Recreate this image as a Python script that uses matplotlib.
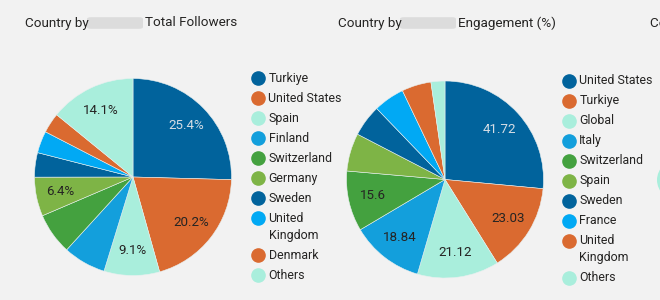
import matplotlib
matplotlib.use("Agg")
import matplotlib.pyplot as plt
from matplotlib.patches import FancyBboxPatch, Circle

plt.rcParams['font.family'] = ['Roboto', 'DejaVu Sans']

# left chart: total followers (%)
countries1 = ['Turkiye', 'United States', 'Spain', 'Finland', 'Switzerland',
              'Germany', 'Sweden', 'United Kingdom', 'Denmark', 'Others']
followers = [25.4, 20.2, 9.1, 7.0, 6.8, 6.4, 4.0, 3.6, 3.3, 14.1]
show1 = [True, True, True, False, False, True, False, False, False, True]

# right chart: engagement (%)
countries2 = ['United States', 'Turkiye', 'Global', 'Italy', 'Switzerland',
              'Spain', 'Sweden', 'France', 'United Kingdom', 'Others']
engagement = [41.72, 23.03, 21.12, 18.84, 15.6, 9.8, 8.2, 8.0, 7.6, 3.6]
show2 = [True, True, True, True, True, False, False, False, False, False]

palette = ['#01639C', '#DA6A30', '#A9EEDC', '#139FDC', '#44A13F',
           '#7EB446', '#01639C', '#01A9F4', '#DA6A30', '#A9EEDC']

bg = '#F2F2F2'
ink = '#252423'
W, H = 660, 300

fig = plt.figure(figsize=(6.6, 3.0), dpi=100, facecolor=bg)


def fx(x):
    return x / W


def fy(y):
    return 1 - y / H


def draw_pie(cx, cy, r, values, show, fmt):
    ax = fig.add_axes([fx(cx - r), fy(cy + r), 2 * r / W, 2 * r / H])
    ax.set_facecolor(bg)
    wedges, texts = ax.pie(values, colors=palette, startangle=90, counterclock=False,
                           radius=1, labels=[fmt(v) if s else '' for v, s in zip(values, show)],
                           labeldistance=0.75,
                           wedgeprops=dict(edgecolor='#E8F0F0', linewidth=0.4),
                           textprops=dict(fontsize=9.6, color=ink, ha='center', va='center'))
    texts[0].set_color('#D5DDE5')
    ax.set_xlim(-1, 1)
    ax.set_ylim(-1, 1)
    ax.set_aspect('equal')
    ax.axis('off')


def draw_legend(xm, y0, names):
    y = y0
    for name, col in zip(names, palette):
        fig.lines.append(plt.Line2D([fx(xm)], [fy(y)], marker='o', ms=9.5, color=col,
                                    ls='none', transform=fig.transFigure, figure=fig))
        parts = name.split(' ') if name == 'United Kingdom' else [name]
        for k, p in enumerate(parts):
            fig.text(fx(xm + 10.5), fy(y + 17 * k), p, fontsize=8.9, color=ink,
                     ha='left', va='center')
        y += 20 + 17 * (len(parts) - 1)


def draw_title(x, y, first, gap, rest):
    fig.text(fx(x), fy(y), first, fontsize=9.7, color=ink, ha='left', va='center')
    fig.add_artist(FancyBboxPatch((fx(x + 66), fy(y + 4)), gap / W, 8 / H,
                                  boxstyle='round,pad=0.006', transform=fig.transFigure,
                                  facecolor='#DCDCDC', edgecolor='none'))
    fig.text(fx(x + 120), fy(y), rest, fontsize=9.7, color=ink, ha='left', va='center')


draw_title(25, 23, 'Country by', 48, 'Total Followers')
draw_title(338, 23, 'Country by', 48, 'Engagement (%)')
fig.text(fx(650), fy(23), 'Country by', fontsize=9.7, color=ink, ha='left', va='center')

draw_pie(133, 177, 98.5, followers, show1, lambda v: f'{v:.1f}%')
draw_pie(445, 179.5, 98.5, engagement, show2, lambda v: f'{v:g}')

draw_legend(258, 78.3, countries1)
draw_legend(568.7, 80.7, countries2)

# edge of the next chart peeking in on the right
fig.add_artist(Circle((fx(747), fy(180)), 90 / W, transform=fig.transFigure,
                      facecolor='#A9EEDC', edgecolor='none'))

fig.savefig('out.png', dpi=100, facecolor=bg)
